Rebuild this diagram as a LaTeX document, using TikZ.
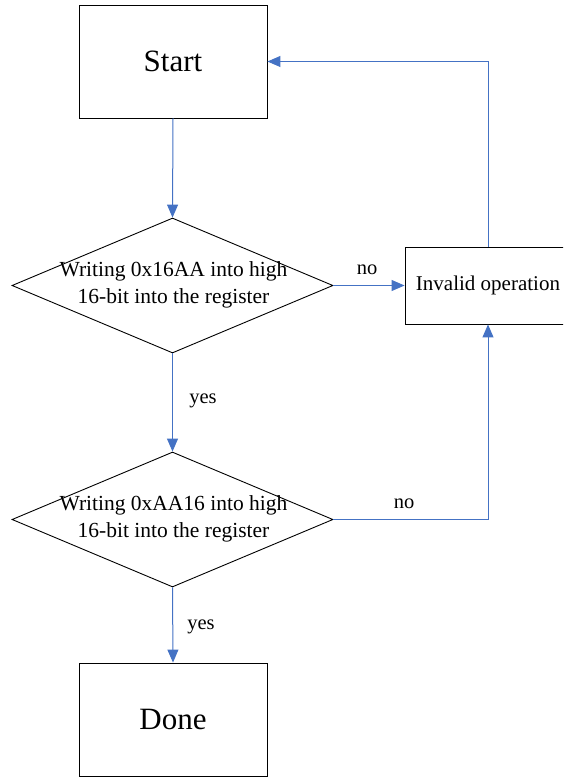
\documentclass[tikz,border=0pt]{standalone}
\usepackage{fontspec}
\setmainfont{Liberation Serif}
\usetikzlibrary{arrows.meta,shapes.geometric}
\definecolor{flowblue}{RGB}{68,114,196}
\begin{document}
\begin{tikzpicture}[x=1pt,y=-1pt,
  bigbox/.style={draw=black,line width=0.9pt,minimum width=188pt,minimum height=113pt,
    inner sep=0pt,font=\fontsize{31}{36}\selectfont},
  smallbox/.style={draw=black,line width=0.9pt,minimum width=166pt,minimum height=77pt,
    inner sep=0pt,font=\fontsize{21}{25}\selectfont},
  decision/.style={draw=black,line width=0.9pt,diamond,minimum width=321pt,
    minimum height=135pt,inner sep=0pt},
  dtext/.style={align=center,inner sep=0pt,font=\fontsize{21.5}{27.5}\selectfont},
  lbl/.style={inner sep=0pt,font=\fontsize{20.5}{25}\selectfont},
  flow/.style={draw=flowblue,line width=1pt,-{Triangle[length=13pt,width=11pt]}}]
  \useasboundingbox (0,0) rectangle (563,778);
  \clip (0,0) rectangle (563,778);

  % boxes and decisions
  \node[bigbox] (start) at (173,61.5) {Start};
  \node[decision] (d1) at (172.5,285.5) {};
  \node[dtext] (d1t) at (173.5,285) {Writing 0x16AA into high\\16-bit into the register};
  \node[smallbox] (inv) at (488,285.5) {Invalid operation};
  \node[decision] (d2) at (172.5,519.5) {};
  \node[dtext] (d2t) at (173.5,519) {Writing 0xAA16 into high\\16-bit into the register};
  \node[bigbox] (done) at (173,719.5) {Done};

  % connectors
  \draw[flow] (start.south) -- (d1.north);
  \draw[flow] (d1.east) -- (inv.west);
  \draw[flow] (inv.north) |- (start.east);
  \draw[flow] (d1.south) -- (d2.north);
  \draw[flow] (d2.east) -| (inv.south);
  \draw[flow] (d2.south) -- (done.north);

  % branch labels
  \node[lbl] (no1) at (367,270) {no};
  \node[lbl] (yes1) at (203,401) {yes};
  \node[lbl] (no2) at (404,504) {no};
  \node[lbl] (yes2) at (201,627) {yes};
\end{tikzpicture}
\end{document}
